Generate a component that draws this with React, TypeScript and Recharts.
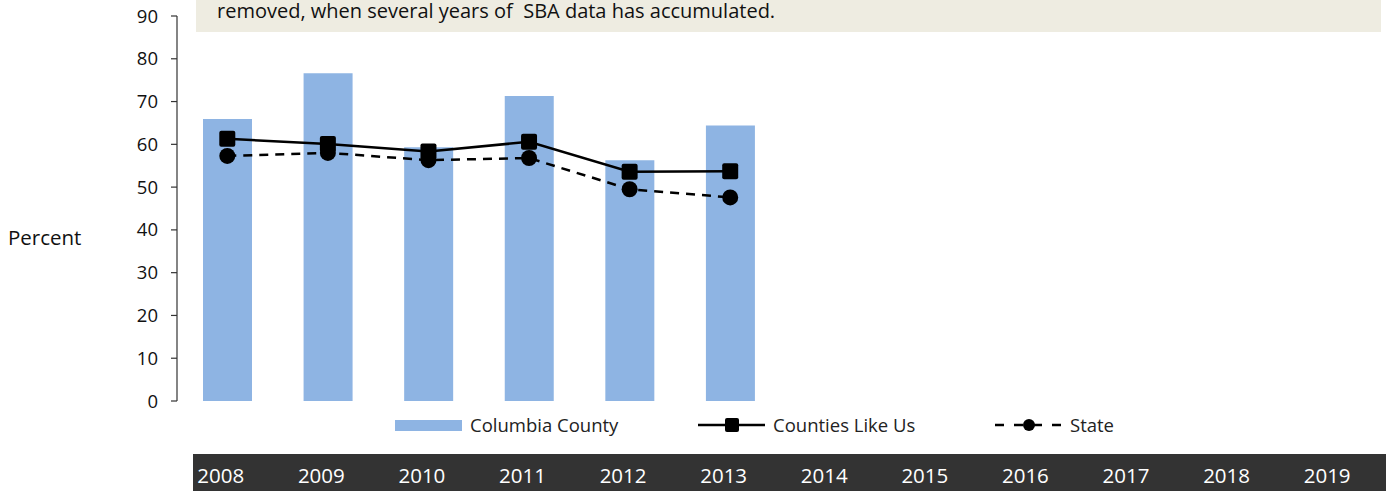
import React from "react";
import {
  ComposedChart,
  Bar,
  Line,
  XAxis,
  YAxis,
  Legend,
} from "recharts";

const years = [
  "2008", "2009", "2010", "2011", "2012", "2013",
  "2014", "2015", "2016", "2017", "2018", "2019",
];
const columbiaCounty = [65.9, 76.6, 59.3, 71.3, 56.3, 64.4];
const countiesLikeUs = [61.3, 60.1, 58.3, 60.6, 53.6, 53.7];
const stateValues = [57.3, 58.0, 56.3, 56.8, 49.5, 47.6];
const yTicks = [0, 10, 20, 30, 40, 50, 60, 70, 80, 90];

const FONT = "'Open Sans', sans-serif";
const BAR_COLOR = "#8EB4E3";

const data = years.map((year, i) => ({
  year,
  columbia: columbiaCounty[i],
  counties: countiesLikeUs[i],
  state: stateValues[i],
}));

function SquareDot(props: any) {
  const { cx, cy } = props;
  if (cx == null || cy == null || props.value == null) return null;
  return <rect x={cx - 8} y={cy - 8} width={16} height={16} rx={2} fill="#000" />;
}

function CircleDot(props: any) {
  const { cx, cy } = props;
  if (cx == null || cy == null || props.value == null) return null;
  return <circle cx={cx} cy={cy} r={8} fill="#000" />;
}

function YearTick(props: any) {
  const { x, payload } = props;
  return (
    <text
      x={x - 30}
      y={483}
      fill="#fff"
      fontSize={20.5}
      fontFamily={FONT}
      textAnchor="start"
    >
      {payload.value}
    </text>
  );
}

const legendX = [395, 698, 995];

function LegendContent(props: any) {
  const { payload } = props;
  return (
    <div style={{ position: "relative", height: 30, width: 1396 }}>
      {payload.map((item: any, i: number) => {
        const left = legendX[i];
        let swatch;
        if (item.dataKey === "columbia") {
          swatch = (
            <svg width={68} height={30} style={{ position: "absolute", left: 0, top: 0 }}>
              <rect x={0} y={9} width={67} height={11} fill={BAR_COLOR} />
            </svg>
          );
        } else if (item.dataKey === "counties") {
          swatch = (
            <svg width={68} height={30} style={{ position: "absolute", left: 0, top: 0 }}>
              <line x1={0} y1={14} x2={67} y2={14} stroke="#000" strokeWidth={2.5} />
              <rect x={27} y={7} width={14} height={14} rx={2} fill="#000" />
            </svg>
          );
        } else {
          swatch = (
            <svg width={68} height={30} style={{ position: "absolute", left: 0, top: 0 }}>
              <line x1={0} y1={14} x2={67} y2={14} stroke="#000" strokeWidth={2.5} strokeDasharray="9 10" />
              <circle cx={34} cy={14} r={6} fill="#000" />
            </svg>
          );
        }
        return (
          <div key={item.dataKey} style={{ position: "absolute", left, top: 0, height: 30 }}>
            {swatch}
            <span
              style={{
                position: "absolute",
                left: 75,
                top: 0,
                fontSize: 18.5,
                lineHeight: "28px",
                fontFamily: FONT,
                color: "#222",
                whiteSpace: "nowrap",
              }}
            >
              {item.value}
            </span>
          </div>
        );
      })}
    </div>
  );
}

export default function App() {
  return (
    <div style={{ position: "absolute", left: 0, top: 0, width: 1396, height: 491, background: "#fff", overflow: "hidden" }}>
      <div
        style={{
          position: "absolute",
          left: 196,
          top: 0,
          width: 1185,
          height: 32,
          background: "#EEECE1",
        }}
      />
      <div
        style={{
          position: "absolute",
          left: 217,
          top: 0,
          fontSize: 20,
          fontFamily: FONT,
          color: "#111",
          whiteSpace: "pre",
          lineHeight: "22px",
        }}
      >
        {"removed, when several years of  SBA data has accumulated."}
      </div>
      <div
        style={{
          position: "absolute",
          left: 193,
          top: 454,
          width: 1193,
          height: 37,
          background: "#333333",
        }}
      />
      <div
        style={{
          position: "absolute",
          left: 8,
          top: 222,
          fontSize: 20.5,
          lineHeight: "30px",
          fontFamily: FONT,
          color: "#111",
        }}
      >
        Percent
      </div>
      <div style={{ position: "absolute", left: 0, top: 0 }}>
        <ComposedChart
          width={1396}
          height={491}
          data={data}
          margin={{ top: 16, right: 12, bottom: 0, left: 117 }}
        >
          <XAxis
            dataKey="year"
            height={60}
            axisLine={false}
            tickLine={false}
            tick={<YearTick />}
            interval={0}
          />
          <YAxis
            width={60}
            domain={[0, 90]}
            ticks={yTicks}
            interval={0}
            axisLine={{ stroke: "#333", strokeWidth: 1.2 }}
            tickLine={{ stroke: "#333", strokeWidth: 1.2 }}
            tickSize={6}
            tickMargin={13}
            tick={{ fontSize: 18.5, fontFamily: FONT, fill: "#111" }}
          />
          <Legend
            verticalAlign="bottom"
            wrapperStyle={{ top: 411, left: 0, width: 1396, height: 30 }}
            content={<LegendContent />}
          />
          <Bar
            dataKey="columbia"
            name="Columbia County"
            fill={BAR_COLOR}
            barSize={49}
            isAnimationActive={false}
          />
          <Line
            dataKey="counties"
            name="Counties Like Us"
            stroke="#000"
            strokeWidth={2.5}
            dot={<SquareDot />}
            activeDot={false}
            isAnimationActive={false}
            connectNulls={false}
          />
          <Line
            dataKey="state"
            name="State"
            stroke="#000"
            strokeWidth={2.5}
            strokeDasharray="9 7"
            dot={<CircleDot />}
            activeDot={false}
            isAnimationActive={false}
            connectNulls={false}
          />
        </ComposedChart>
      </div>
    </div>
  );
}
